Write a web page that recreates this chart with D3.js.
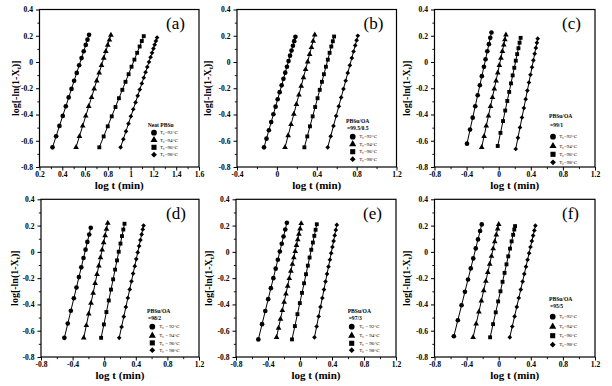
<!DOCTYPE html>
<html><head><meta charset="utf-8">
<script src="https://cdn.jsdelivr.net/npm/d3@7/dist/d3.min.js"></script>
<style>
body{margin:0;background:#fff}
svg{display:block}
text{font-family:"Liberation Serif","Times New Roman",serif;fill:#000}
</style>
</head><body>
<svg id="chart" width="612" height="386"></svg>
<script>
// ---------------- DATA ----------------
const panelLabels = ["(a)","(b)","(c)","(d)","(e)","(f)"];
const legendTitles = ["Neat PBSu","PBSu/OA","PBSu/OA","PBSu/OA","PBSu/OA","PBSu/OA"];
const legendSubs = ["","=99.5/0.5","=99/1","=98/2","=97/3","=95/5"];
const temps = ["92","94","96","98"];
const yTicks = [-0.8,-0.6,-0.4,-0.2,0,0.2,0.4];
const xTicksA = [0.2,0.4,0.6,0.8,1.0,1.2,1.4,1.6];
const xTicksB = [-0.4,0,0.4,0.8,1.2];
const xTicksC = [-0.8,-0.4,0,0.4,0.8,1.2];

// Panel (a) Neat PBSu
const aX1=[0.314,0.346,0.375,0.404,0.431,0.456,0.481,0.504,0.527,0.548,0.569,0.588,0.606,0.621,0.635];
const aY1=[-0.650,-0.566,-0.487,-0.411,-0.338,-0.270,-0.205,-0.143,-0.083,-0.025,0.030,0.082,0.130,0.170,0.207];
const aX2=[0.521,0.551,0.579,0.606,0.632,0.657,0.680,0.702,0.724,0.744,0.764,0.782,0.799,0.814,0.827];
const aY2=[-0.650,-0.566,-0.487,-0.411,-0.338,-0.270,-0.205,-0.143,-0.083,-0.025,0.030,0.081,0.129,0.168,0.205];
const aX3=[0.725,0.763,0.799,0.834,0.867,0.897,0.927,0.955,0.982,1.008,1.033,1.057,1.079,1.098,1.115];
const aY3=[-0.650,-0.567,-0.490,-0.414,-0.343,-0.276,-0.212,-0.151,-0.093,-0.036,0.018,0.070,0.118,0.160,0.197];
const aX4=[0.912,0.936,0.959,0.981,1.002,1.023,1.043,1.062,1.080,1.098,1.115,1.131,1.146,1.161,1.175,1.188,1.200,1.211,1.222,1.232];
const aY4=[-0.650,-0.588,-0.528,-0.470,-0.414,-0.360,-0.308,-0.258,-0.210,-0.164,-0.120,-0.078,-0.038,0.000,0.036,0.070,0.102,0.132,0.160,0.186];
// Panel (b) 99.5/0.5
const bX1=[-0.129,-0.104,-0.080,-0.057,-0.035,-0.013,0.008,0.028,0.048,0.066,0.084,0.101,0.117,0.132,0.147,0.161,0.174,0.186];
const bY1=[-0.650,-0.584,-0.520,-0.458,-0.398,-0.340,-0.284,-0.230,-0.178,-0.128,-0.081,-0.036,0.007,0.048,0.087,0.124,0.159,0.192];
const bX2=[0.082,0.113,0.142,0.170,0.196,0.221,0.244,0.267,0.288,0.309,0.328,0.347,0.364,0.380];
const bY2=[-0.650,-0.560,-0.476,-0.397,-0.322,-0.251,-0.183,-0.119,-0.057,0.002,0.058,0.111,0.160,0.207];
const bX3=[0.276,0.305,0.332,0.359,0.384,0.408,0.430,0.452,0.472,0.492,0.511,0.529,0.546,0.561,0.574];
const bY3=[-0.650,-0.567,-0.490,-0.414,-0.343,-0.276,-0.212,-0.151,-0.093,-0.036,0.018,0.070,0.118,0.158,0.194];
const bX4=[0.510,0.540,0.568,0.595,0.621,0.645,0.668,0.690,0.711,0.732,0.752,0.769,0.786,0.800,0.812];
const bY4=[-0.650,-0.566,-0.487,-0.411,-0.338,-0.270,-0.205,-0.143,-0.083,-0.025,0.030,0.080,0.126,0.165,0.200];
// Panel (c) 99/1
const cX1=[-0.395,-0.357,-0.324,-0.292,-0.262,-0.235,-0.210,-0.184,-0.164,-0.142,-0.122,-0.105,-0.090];
const cY1=[-0.622,-0.515,-0.424,-0.337,-0.253,-0.177,-0.108,-0.037,0.021,0.082,0.136,0.184,0.225];
const cX2=[-0.212,-0.182,-0.155,-0.128,-0.102,-0.078,-0.055,-0.033,-0.012,0.008,0.028,0.046,0.063,0.077,0.090];
const cY2=[-0.650,-0.566,-0.487,-0.411,-0.338,-0.270,-0.205,-0.143,-0.083,-0.025,0.030,0.082,0.130,0.170,0.207];
const cX3=[-0.012,0.022,0.054,0.081,0.107,0.131,0.153,0.174,0.194,0.213,0.230,0.246,0.260,0.273];
const cY3=[-0.640,-0.540,-0.450,-0.370,-0.297,-0.228,-0.163,-0.102,-0.044,0.010,0.060,0.105,0.147,0.184];
const cX4=[0.212,0.240,0.265,0.290,0.314,0.336,0.357,0.377,0.396,0.415,0.432,0.448,0.463,0.476,0.486];
const cY4=[-0.663,-0.578,-0.499,-0.423,-0.351,-0.283,-0.218,-0.156,-0.097,-0.040,0.013,0.062,0.107,0.146,0.178];
// Panel (d) 98/2
const dX1=[-0.504,-0.461,-0.422,-0.384,-0.351,-0.320,-0.290,-0.262,-0.236,-0.213,-0.190,-0.170];
const dY1=[-0.654,-0.545,-0.448,-0.353,-0.271,-0.192,-0.118,-0.047,0.017,0.076,0.132,0.183];
const dX2=[-0.259,-0.226,-0.196,-0.167,-0.140,-0.115,-0.091,-0.068,-0.047,-0.026,-0.007,0.012,0.029,0.045];
const dY2=[-0.654,-0.560,-0.472,-0.390,-0.313,-0.240,-0.171,-0.106,-0.044,0.015,0.071,0.124,0.173,0.219];
const dX3=[-0.039,-0.004,0.028,0.058,0.086,0.113,0.138,0.162,0.184,0.206,0.225,0.242,0.257];
const dY3=[-0.654,-0.552,-0.458,-0.370,-0.287,-0.209,-0.135,-0.065,0.001,0.063,0.120,0.170,0.214];
const dX4=[0.190,0.220,0.248,0.274,0.299,0.323,0.345,0.366,0.387,0.406,0.424,0.442,0.458,0.474,0.488,0.498];
const dY4=[-0.654,-0.571,-0.493,-0.420,-0.351,-0.286,-0.224,-0.165,-0.109,-0.055,-0.004,0.044,0.090,0.133,0.171,0.200];
// Panel (e) 97/3
const eX1=[-0.521,-0.474,-0.434,-0.398,-0.364,-0.333,-0.304,-0.277,-0.252,-0.228,-0.206,-0.184,-0.164];
const eY1=[-0.666,-0.550,-0.450,-0.360,-0.276,-0.200,-0.128,-0.060,0.003,0.062,0.117,0.170,0.221];
const eX2=[-0.293,-0.268,-0.244,-0.221,-0.198,-0.176,-0.154,-0.134,-0.114,-0.095,-0.077,-0.060,-0.044,-0.028,-0.014,0.001,0.015];
const eY2=[-0.650,-0.580,-0.512,-0.446,-0.382,-0.320,-0.260,-0.202,-0.146,-0.094,-0.044,0.004,0.050,0.094,0.136,0.176,0.216];
const eX3=[-0.100,-0.064,-0.032,-0.002,0.025,0.051,0.075,0.098,0.120,0.141,0.161,0.179,0.195,0.210];
const eY3=[-0.666,-0.565,-0.474,-0.390,-0.312,-0.239,-0.170,-0.105,-0.043,0.016,0.071,0.122,0.168,0.210];
const eX4=[0.181,0.208,0.233,0.256,0.279,0.300,0.319,0.338,0.356,0.374,0.390,0.405,0.420,0.434,0.447,0.460];
const eY4=[-0.650,-0.568,-0.491,-0.419,-0.351,-0.287,-0.226,-0.168,-0.113,-0.060,-0.010,0.037,0.082,0.125,0.166,0.205];
// Panel (f) 95/5
const fX1=[-0.559,-0.509,-0.463,-0.421,-0.382,-0.348,-0.317,-0.286,-0.258,-0.232,-0.211];
const fY1=[-0.642,-0.520,-0.406,-0.304,-0.210,-0.126,-0.050,0.026,0.095,0.159,0.209];
const fX2=[-0.319,-0.281,-0.247,-0.216,-0.187,-0.160,-0.136,-0.112,-0.090,-0.069,-0.049,-0.030,-0.013,0.000];
const fY2=[-0.650,-0.548,-0.456,-0.372,-0.295,-0.223,-0.156,-0.093,-0.033,0.024,0.078,0.130,0.175,0.210];
const fX3=[-0.107,-0.070,-0.037,-0.007,0.022,0.048,0.073,0.097,0.119,0.141,0.161,0.180,0.194,0.204];
const fY3=[-0.650,-0.550,-0.460,-0.377,-0.300,-0.228,-0.160,-0.095,-0.034,0.025,0.080,0.130,0.170,0.196];
const fX4=[0.138,0.169,0.198,0.225,0.250,0.275,0.298,0.319,0.340,0.360,0.379,0.396,0.413,0.429,0.444,0.457];
const fY4=[-0.650,-0.568,-0.491,-0.419,-0.351,-0.287,-0.226,-0.168,-0.113,-0.060,-0.010,0.037,0.082,0.124,0.163,0.199];

// ---------------- LAYOUT ----------------
const svg = d3.select("#chart");
const panels = [
  {l:39.5,r:199,t:9.5,b:167, xd:[0.2,1.6], xt:xTicksA, xm:0.1, ser:[[aX1,aY1],[aX2,aY2],[aX3,aY3],[aX4,aY4]],
   leg:{tx:147.7,ty:125.5,sy:null,mx:154,lx:160,ey:[132.7,140,147.3,154.7],sp:false}, ylx:15},
  {l:237,r:396.5,t:9.5,b:167, xd:[-0.4,1.2], xt:xTicksB, xm:0.2, ser:[[bX1,bY1],[bX2,bY2],[bX3,bY3],[bX4,bY4]],
   leg:{tx:346,ty:121.5,sy:128,mx:352.7,lx:359.3,ey:[136.7,144.2,151.7,159.2],sp:false}, ylx:207},
  {l:434.5,r:595,t:9.5,b:167, xd:[-0.8,1.2], xt:xTicksC, xm:0.2, ser:[[cX1,cY1],[cX2,cY2],[cX3,cY3],[cX4,cY4]],
   leg:{tx:549,ty:115.7,sy:125.2,mx:553,lx:559.3,ey:[136.7,146,154.3,162.3],sp:false}, ylx:406},
  {l:41,r:199,t:199.3,b:357, xd:[-0.8,1.2], xt:xTicksC, xm:0.2, ser:[[dX1,dY1],[dX2,dY2],[dX3,dY3],[dX4,dY4]],
   leg:{tx:147,ty:311,sy:317.7,mx:152.3,lx:159.3,ey:[326.7,335.7,342.9,350.2],sp:true}, ylx:14},
  {l:236,r:396,t:199.3,b:357, xd:[-0.8,1.2], xt:xTicksC, xm:0.2, ser:[[eX1,eY1],[eX2,eY2],[eX3,eY3],[eX4,eY4]],
   leg:{tx:347.7,ty:311,sy:317.7,mx:351.7,lx:359.3,ey:[326.7,335.7,343.3,350.2],sp:true}, ylx:208},
  {l:434.5,r:595,t:199.3,b:357, xd:[-0.8,1.2], xt:xTicksC, xm:0.2, ser:[[fX1,fY1],[fX2,fY2],[fX3,fY3],[fX4,fY4]],
   leg:{tx:549,ty:299,sy:305.7,mx:552.7,lx:559.3,ey:[316.7,326.7,335.7,344.7],sp:false}, ylx:406}
];

const fmt = d => Math.abs(d) < 1e-9 ? "0" : String(+d.toFixed(1));
const FONT = "'Liberation Serif','Times New Roman',serif";

function symbolPath(k, size) {
  if (k === 0) return d3.symbol(d3.symbolCircle, size)();
  if (k === 1) return d3.symbol(d3.symbolTriangle, size)();
  return d3.symbol(d3.symbolSquare, size)();
}
function symRot(k){ return k === 3 ? " rotate(45)" : ""; }

panels.forEach((p, i) => {
  const x = d3.scaleLinear().domain(p.xd).range([p.l, p.r]);
  const y = d3.scaleLinear().domain([-0.8, 0.4]).range([p.b, p.t]);
  const g = svg.append("g");

  // minor ticks
  const xMinor = d3.range(p.xd[0], p.xd[1] + 1e-9, p.xm).filter(v => !p.xt.some(t => Math.abs(t - v) < 1e-6));
  const yMinor = d3.range(-0.7, 0.4, 0.2);
  g.append("g").attr("transform", `translate(0,${p.b})`)
    .call(d3.axisBottom(x).tickValues(xMinor).tickSize(2.2).tickFormat(""))
    .call(s => s.select(".domain").remove())
    .selectAll("line").attr("stroke-width", 0.9);
  g.append("g").attr("transform", `translate(${p.l},0)`)
    .call(d3.axisLeft(y).tickValues(yMinor).tickSize(2.2).tickFormat(""))
    .call(s => s.select(".domain").remove())
    .selectAll("line").attr("stroke-width", 0.9);

  // major ticks
  const xa = g.append("g").attr("transform", `translate(0,${p.b})`)
    .call(d3.axisBottom(x).tickValues(p.xt).tickSize(3.5).tickPadding(1.6).tickFormat(fmt));
  xa.select(".domain").remove();
  xa.selectAll("line").attr("stroke-width", 1);
  xa.selectAll("text").attr("font-size", 7.6).attr("font-weight", "bold").attr("font-family", FONT);

  const ya = g.append("g").attr("transform", `translate(${p.l},0)`)
    .call(d3.axisLeft(y).tickValues(yTicks).tickSize(3.5).tickPadding(3).tickFormat(fmt));
  ya.select(".domain").remove();
  ya.selectAll("line").attr("stroke-width", 1);
  ya.selectAll("text").attr("font-size", 7.6).attr("font-weight", "bold").attr("font-family", FONT);

  // frame
  g.append("rect").attr("x", p.l).attr("y", p.t).attr("width", p.r - p.l).attr("height", p.b - p.t)
    .attr("fill", "none").attr("stroke", "#000").attr("stroke-width", 1.2);

  // series: fitted line + markers
  p.ser.forEach(([xs, ys], k) => {
    const n = xs.length;
    const my = d3.mean(ys), mx = d3.mean(xs);
    let sxy = 0, syy = 0;
    for (let j = 0; j < n; j++) { sxy += (ys[j]-my)*(xs[j]-mx); syy += (ys[j]-my)*(ys[j]-my); }
    const slope = sxy / syy;
    const y0 = d3.min(ys), y1 = d3.max(ys) + 0.01;
    const fit = [[mx + slope*(y0-my), y0], [mx + slope*(y1-my), y1]];
    g.append("path").attr("d", d3.line().x(d => x(d[0])).y(d => y(d[1]))(fit))
      .attr("stroke", "#000").attr("stroke-width", 1).attr("fill", "none");
    const sz = k === 0 ? 17 : k === 1 ? 14 : k === 2 ? 15 : 11;
    g.selectAll(null).data(d3.range(n)).enter().append("path")
      .attr("d", symbolPath(k, sz))
      .attr("transform", j => `translate(${x(xs[j])},${y(ys[j])})${symRot(k)}`)
      .attr("fill", "#000");
  });

  // axis labels
  g.append("text").attr("x", (p.l + p.r) / 2).attr("y", p.b + 21.5)
    .attr("text-anchor", "middle").attr("font-size", 11).attr("font-weight", "bold").text("log t (min)");
  const yl = g.append("text").attr("transform", `translate(${p.ylx},${(p.t + p.b) / 2}) rotate(-90)`)
    .attr("text-anchor", "middle").attr("font-size", 10).attr("font-weight", "bold").attr("dy", "0.35em");
  yl.append("tspan").text("log[-ln(1-X");
  yl.append("tspan").attr("font-size", 6.5).attr("dy", 2).text("t");
  yl.append("tspan").attr("dy", -2).text(")]");

  // panel label
  g.append("text").attr("x", p.r - 33).attr("y", p.t + 19.5).attr("font-size", 17).text(panelLabels[i]);

  // legend
  const L = p.leg;
  g.append("text").attr("x", L.tx).attr("y", L.ty).attr("dy", "0.35em")
    .attr("font-size", 5.6).attr("font-weight", "bold").text(legendTitles[i]);
  if (L.sy !== null) {
    g.append("text").attr("x", L.tx + 1).attr("y", L.sy).attr("dy", "0.35em")
      .attr("font-size", 5.6).attr("font-weight", "bold").text(legendSubs[i]);
  }
  temps.forEach((tc, k) => {
    const sz = k === 0 ? 26 : k === 1 ? 22 : k === 2 ? 26 : 17;
    g.append("path").attr("d", symbolPath(k, sz))
      .attr("transform", `translate(${L.mx},${L.ey[k]})${symRot(k)}`).attr("fill", "#000");
    const t = g.append("text").attr("x", L.lx).attr("y", L.ey[k]).attr("dy", "0.35em").attr("font-size", 5);
    t.append("tspan").text("T");
    t.append("tspan").attr("font-size", 3.5).attr("dy", 1).text("c");
    t.append("tspan").attr("dy", -1).text((L.sp ? " = " : "=") + tc + "°C");
  });
});
</script>
</body></html>
